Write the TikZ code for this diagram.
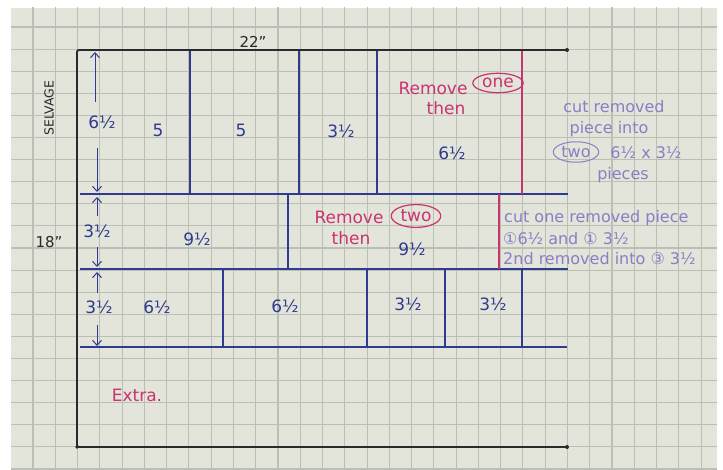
\documentclass[tikz,border=0pt]{standalone}
\usepackage{fontspec}
\setmainfont{DejaVu Sans}
\usetikzlibrary{shapes.geometric,arrows.meta}
\definecolor{paper}{HTML}{E3E4DA}
\definecolor{gridc}{HTML}{BCBFB5}
\definecolor{ink}{HTML}{2F3B8E}
\definecolor{pinkink}{HTML}{C9336F}
\definecolor{purpleink}{HTML}{8B7DC6}
\definecolor{blackink}{HTML}{2A2A2A}
\begin{document}
\begin{tikzpicture}[x=1pt,y=-1pt,
  outer/.style={blackink,line width=1.9pt},
  cutline/.style={ink,line width=1.5pt},
  pinkline/.style={pinkink,line width=1.5pt},
  dimarrow/.style={ink,line width=1pt,-{Straight Barb[length=5pt,width=9pt]}},
  lbl/.style={ink,font=\fontsize{17}{19}\selectfont,inner sep=0pt},
  pinklbl/.style={pinkink,font=\fontsize{17}{19}\selectfont,inner sep=0pt},
  note/.style={purpleink,font=\fontsize{16}{18}\selectfont,inner sep=0pt},
  blk/.style={blackink,font=\fontsize{15}{17}\selectfont,inner sep=0pt},
  ring/.style={draw,ellipse,line width=1.2pt,inner sep=2pt}
]
\useasboundingbox (0,0) rectangle (723,470);
% paper
\fill[white] (0,0) rectangle (723,470);
\fill[paper] (11,8) rectangle (717,470);
\begin{scope}
  \clip (11,8) rectangle (717,470);
  \foreach \k in {-1,...,31} \draw[gridc,line width=1.1pt] ({33+22.27*\k},0) -- ({33+22.27*\k},470);
  \foreach \k in {-1,...,20} \draw[gridc,line width=1.1pt] (0,{27+22.1*\k}) -- (723,{27+22.1*\k});
\end{scope}

% named corners
\coordinate (TL) at (77,50);
\coordinate (TR) at (567,50);
\coordinate (BL) at (77,447);
\coordinate (BR) at (567,447);
\coordinate (L1a) at (80,194);  \coordinate (L1b) at (568,194);
\coordinate (L2a) at (80,269);  \coordinate (L2b) at (568,269);
\coordinate (L3a) at (80,347);  \coordinate (L3b) at (567,347);

% outer black lines
\draw[outer,rounded corners=2pt] (TR) -- (TL) -- (BL) -- (BR);
\fill[blackink] (TR) circle (2pt) (BR) circle (2pt) (BL) circle (1.8pt);

% horizontal cut lines
\draw[cutline] (L1a) -- (L1b);
\draw[cutline] (L2a) -- (L2b);
\draw[cutline] (L3a) -- (L3b);

% row 1 verticals
\foreach \x in {190,299,377} \draw[cutline] (\x,51) -- (\x,194);
\draw[pinkline] (522,51) -- (522,194);
% row 2 verticals
\draw[cutline] (288,194) -- (288,269);
\draw[pinkline] (499,194) -- (499,269);
% row 3 verticals
\foreach \x in {223,367,445,522} \draw[cutline] (\x,269) -- (\x,347);

% dimension arrows
\coordinate (a1s) at (95,102); \coordinate (a1e) at (95,52);
\coordinate (a2s) at (97,148); \coordinate (a2e) at (97,192);
\coordinate (a3s) at (97,216); \coordinate (a3e) at (97,197);
\coordinate (a4s) at (97,247); \coordinate (a4e) at (97,267);
\coordinate (a5s) at (97,293); \coordinate (a5e) at (97,272);
\coordinate (a6s) at (97,325); \coordinate (a6e) at (97,346);
\foreach \a in {1,...,6} \draw[dimarrow] (a\a s) -- (a\a e);

% outer labels
\node[blk] (w22) at (253,42) {22"};
\node[blk] (h18) at (49,242) {18"};
\node[blackink,font=\fontsize{12.5}{14}\selectfont,inner sep=0pt,rotate=90] (selv) at (49,108) {SELVAGE};

% row labels
\node[lbl] (d1) at (102,122) {6½};
\node[lbl] (r1a) at (158,130) {5};
\node[lbl] (r1b) at (241,130) {5};
\node[lbl] (r1c) at (341,131) {3½};
\node[lbl] (r1d) at (452,153) {6½};

\node[lbl] (d2) at (97,231) {3½};
\node[lbl] (r2a) at (197,239) {9½};
\node[lbl] (r2b) at (412,249) {9½};

\node[lbl] (d3) at (99,307) {3½};
\node[lbl] (r3a) at (157,307) {6½};
\node[lbl] (r3b) at (285,306) {6½};
\node[lbl] (r3c) at (408,304) {3½};
\node[lbl] (r3d) at (493,304) {3½};

% pink notes
\node[pinklbl] (rem1) at (433,88) {Remove};
\node[pinklbl,ring] (one) at (498,83) {one};
\node[pinklbl] (then1) at (446,108) {then};

\node[pinklbl] (rem2) at (349,217) {Remove};
\node[pinklbl,ring] (two) at (416,216) {two};
\node[pinklbl] (then2) at (351,238) {then};

\node[pinklbl] (extra) at (137,395) {Extra.};

% purple notes
\node[note] (n1) at (614,107) {cut removed};
\node[note] (n2) at (609,129) {piece into};
\node[note,ring,line width=1pt,inner sep=1.5pt] (n3) at (576,152) {two};
\node[note] (n4) at (646,153) {6½ x 3½};
\node[note] (n5) at (623,175) {pieces};

\node[note,anchor=west] (m1) at (504,218) {cut one removed piece};
\node[note,anchor=west] (m2) at (503,239) {①6½ and ① 3½};
\node[note,anchor=west] (m3) at (503,259) {2nd removed into ③ 3½};
\end{tikzpicture}
\end{document}
